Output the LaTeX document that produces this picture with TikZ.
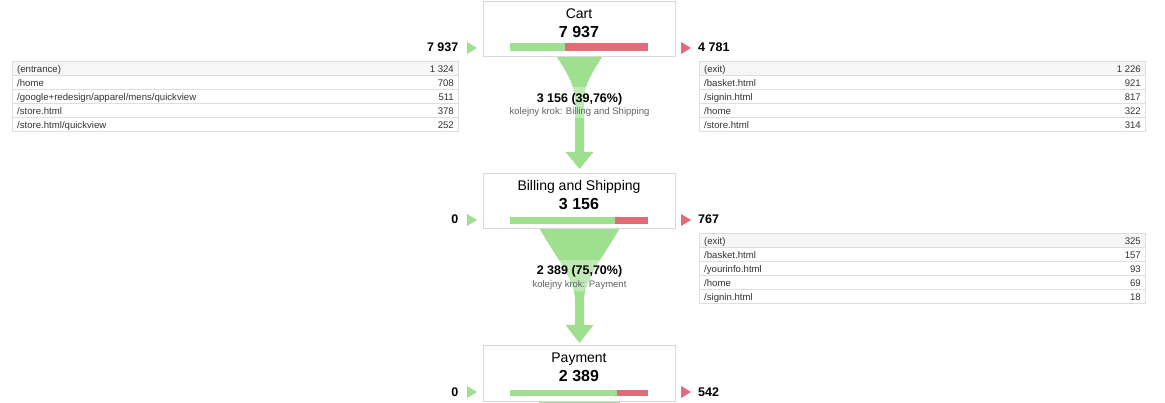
\documentclass[tikz,border=0pt]{standalone}
\usepackage{fontspec}
\setmainfont{Liberation Sans}
\definecolor{fgreen}{RGB}{158,224,143}
\definecolor{fred}{RGB}{225,107,120}
\definecolor{bordr}{RGB}{216,216,216}
\definecolor{tline}{RGB}{222,222,222}
\definecolor{thead}{RGB}{246,246,246}
\definecolor{ttext}{RGB}{51,51,51}
\definecolor{subtext}{RGB}{95,99,104}
\tikzset{
  stepbox/.style={draw=bordr, line width=1pt, fill=white, minimum width=192pt, minimum height=55pt, inner sep=0pt},
  steptitle/.style={font=\fontsize{14}{16}\selectfont, inner sep=0pt, anchor=base},
  bignum/.style={font=\fontsize{16}{18}\selectfont\bfseries, inner sep=0pt, anchor=base},
  sidenum/.style={font=\fontsize{12.5}{14}\selectfont\bfseries, inner sep=0pt},
  tbltext/.style={font=\fontsize{9.6}{11}\selectfont, text=ttext, inner sep=0pt},
  tblrow/.style={draw=tline, line width=1pt},
  lblnum/.style={font=\fontsize{12.5}{14}\selectfont\bfseries, inner sep=0pt, anchor=base},
  lblsub/.style={font=\fontsize{9.5}{11}\selectfont, text=subtext, inner sep=0pt, anchor=base},
  lblbg/.style={fill=white, fill opacity=0.35},
}
\newcommand\prow[7]{%
  \path[tblrow, fill=#7] (#2,#4) rectangle (#3,#4+14);
  \node[tbltext, anchor=base west] (#1l) at (#2+4.5,#4+10.3) {#5};
  \node[tbltext, anchor=base east] (#1v) at (#3-4.5,#4+10.3) {#6};}
\newcommand\sidemarks[5]{% name, top y, left text, right text
  \fill[fgreen] (467,#2+40) -- (477,#2+46) -- (467,#2+52) -- cycle;
  \fill[fred] (681,#2+40) -- (691,#2+46) -- (681,#2+52) -- cycle;
  \node[sidenum, anchor=base east] (#1in) at (458.5,#2+50) {#3};
  \node[sidenum, anchor=base west] (#1out) at (698,#2+50) {#4};}
\begin{document}
\begin{tikzpicture}[x=1pt, y=-1pt]
\useasboundingbox (0,0) rectangle (1165,403);
\clip (0,0) rectangle (1165,403);
% funnels
\fill[fgreen] (555.5,55) .. controls (565.5,70) and (575,85) .. (575,100) -- (575,152) -- (565.5,152) -- (579.5,169) -- (593.5,152) -- (584,152) -- (584,100) .. controls (584,85) and (593.5,70) .. (603.5,55) -- cycle;
\fill[fgreen] (538.5,227) .. controls (554.5,255) and (575,280) .. (575,300) -- (575,325) -- (565.5,325) -- (579.5,343) -- (593.5,325) -- (584,325) -- (584,300) .. controls (584,280) and (604.5,255) .. (620.5,227) -- cycle;
\fill[fgreen] (538.5,399) -- (620.5,399) -- (619,410) -- (540,410) -- cycle;
% label backgrounds
\fill[lblbg] (550,86.7) rectangle (610,118);
\fill[lblbg] (545,259.7) rectangle (615,291.3);
% step boxes
\node[stepbox] (cart) at (579,29.5) {};
\node[stepbox] (bill) at (579,201.5) {};
\node[stepbox] (pay) at (579,373.5) {};
% titles
\node[steptitle] (cartT) at (579,18.5) {Cart};
\node[bignum] (cartN) at (579,37.5) {7 937};
\node[steptitle] (billT) at (579,190.7) {Billing and Shipping};
\node[bignum] (billN) at (579,209.5) {3 156};
\node[steptitle] (payT) at (579,362.7) {Payment};
\node[bignum] (payN) at (579,381.5) {2 389};
% bars
\fill[fgreen] (510,43.3) rectangle (565,51.3);
\fill[fred] (565,43.3) rectangle (648,51.3);
\fill[fgreen] (510,217.5) rectangle (614.5,224);
\fill[fred] (614.5,217.5) rectangle (648,224);
\fill[fgreen] (510,389.5) rectangle (616.7,396);
\fill[fred] (616.7,389.5) rectangle (648,396);
% side numbers
\sidemarks{c}{2}{7 937}{4 781}{}
\sidemarks{b}{174}{0}{767}{}
\sidemarks{p}{346}{0}{542}{}
% funnel labels
\node[lblnum] (f1n) at (579.5,102.5) {3 156 (39,76\%)};
\node[lblsub] (f1s) at (579.5,115) {kolejny krok: Billing and Shipping};
\node[lblnum] (f2n) at (579.5,275) {2 389 (75,70\%)};
\node[lblsub] (f2s) at (579.5,287.5) {kolejny krok: Payment};
% entrance table
\prow{ea}{12.5}{458.5}{62}{(entrance)}{1 324}{thead}
\prow{eb}{12.5}{458.5}{76}{/home}{708}{white}
\prow{ec}{12.5}{458.5}{90}{/google+redesign/apparel/mens/quickview}{511}{white}
\prow{ed}{12.5}{458.5}{104}{/store.html}{378}{white}
\prow{ee}{12.5}{458.5}{118}{/store.html/quickview}{252}{white}
% exit table 1
\prow{xa}{699.5}{1145.5}{62}{(exit)}{1 226}{thead}
\prow{xb}{699.5}{1145.5}{76}{/basket.html}{921}{white}
\prow{xc}{699.5}{1145.5}{90}{/signin.html}{817}{white}
\prow{xd}{699.5}{1145.5}{104}{/home}{322}{white}
\prow{xe}{699.5}{1145.5}{118}{/store.html}{314}{white}
% exit table 2
\prow{ya}{699.5}{1145.5}{234}{(exit)}{325}{thead}
\prow{yb}{699.5}{1145.5}{248}{/basket.html}{157}{white}
\prow{yc}{699.5}{1145.5}{262}{/yourinfo.html}{93}{white}
\prow{yd}{699.5}{1145.5}{276}{/home}{69}{white}
\prow{ye}{699.5}{1145.5}{290}{/signin.html}{18}{white}
\end{tikzpicture}
\end{document}
